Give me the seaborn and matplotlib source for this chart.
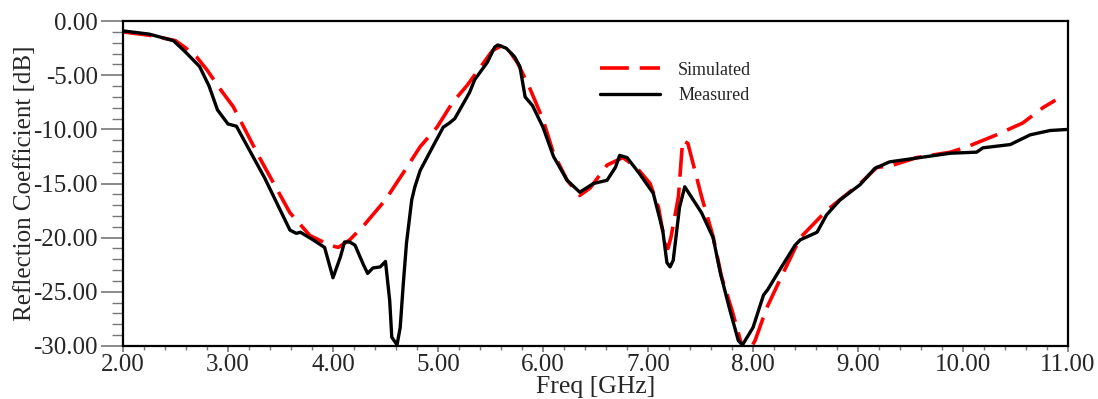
import numpy as np
import pandas as pd
import matplotlib
matplotlib.use("Agg")
import matplotlib.pyplot as plt
import seaborn as sns
from matplotlib.ticker import MultipleLocator, FormatStrFormatter

# =======================
# Data
# =======================
sim_freq = [2.0, 2.25, 2.5, 2.6, 2.7, 2.8, 2.92, 3.05, 3.3, 3.59, 3.78, 3.97, 4.05, 4.16,
            4.3, 4.5, 4.67, 4.83, 4.99, 5.14, 5.28, 5.4, 5.52, 5.6, 5.69, 5.76, 5.87,
            6.0, 6.1, 6.23, 6.35, 6.45, 6.61, 6.76, 6.89, 7.02, 7.1, 7.16, 7.19, 7.22,
            7.29, 7.33, 7.38, 7.51, 7.62, 7.7, 7.8, 7.88, 7.93, 8.02, 8.13, 8.29, 8.45,
            8.7, 9.02, 9.18, 9.3, 9.56, 9.88, 10.04, 10.32, 10.57, 10.76, 10.88]
sim_s11 = [-1.0, -1.3, -1.8, -2.5, -3.3, -4.5, -6.2, -7.9, -12.6, -17.7, -19.8, -20.7, -20.9, -20.2,
           -18.8, -16.5, -14.0, -11.6, -9.8, -7.5, -5.9, -4.3, -2.7, -2.3, -2.9, -3.9, -6.1,
           -9.1, -12.2, -14.7, -16.1, -15.4, -13.3, -12.6, -13.5, -15.0, -17.2, -20.5, -21.0, -19.9,
           -16.2, -11.0, -11.3, -16.2, -19.9, -23.6, -26.7, -29.5, -31.0, -29.5, -26.5, -23.2, -20.0,
           -17.5, -15.0, -13.5, -13.4, -12.6, -12.1, -11.6, -10.5, -9.4, -8.0, -7.3]

meas_freq = [2.0, 2.25, 2.48, 2.6, 2.73, 2.82, 2.9, 3.0, 3.04, 3.08, 3.35, 3.59, 3.65, 3.69,
             3.81, 3.92, 4.0, 4.07, 4.11, 4.16, 4.21, 4.29, 4.33, 4.38, 4.45, 4.5,
             4.54, 4.56, 4.61, 4.64, 4.67, 4.7, 4.75, 4.78, 4.83, 4.95, 5.05, 5.11, 5.16,
             5.23, 5.3, 5.35, 5.47, 5.54, 5.57, 5.65, 5.73, 5.78, 5.83, 5.9, 6.0, 6.1,
             6.23, 6.35, 6.48, 6.61, 6.69, 6.73, 6.8, 6.92, 7.05, 7.14, 7.18, 7.21, 7.24,
             7.3, 7.35, 7.51, 7.62, 7.69, 7.78, 7.86, 7.9, 8.0, 8.1, 8.14, 8.24, 8.4, 8.45, 8.61,
             8.7, 8.83, 9.02, 9.16, 9.3, 9.59, 9.88, 10.13, 10.19, 10.45, 10.64, 10.83, 11.0]
meas_s11 = [-0.9, -1.2, -1.8, -2.9, -4.2, -6.0, -8.2, -9.5, -9.6, -9.7, -14.5, -19.3, -19.6, -19.5,
            -20.2, -20.9, -23.7, -21.8, -20.4, -20.4, -20.7, -22.5, -23.3, -22.8, -22.7, -22.2,
            -25.8, -29.2, -29.9, -28.3, -24.2, -20.5, -16.5, -15.3, -13.8, -11.6, -9.8, -9.4, -9.0,
            -7.8, -6.6, -5.4, -3.8, -2.4, -2.2, -2.5, -3.3, -4.2, -7.0, -7.8, -9.8, -12.5,
            -14.7, -15.8, -15.0, -14.7, -13.5, -12.4, -12.6, -14.1, -15.9, -19.3, -22.3, -22.7, -22.1,
            -17.2, -15.3, -17.7, -20.0, -23.3, -26.7, -29.5, -29.9, -28.3, -25.3, -24.8, -23.2, -20.7, -20.2, -19.5,
            -17.9, -16.5, -15.1, -13.6, -13.0, -12.6, -12.2, -12.1, -11.7, -11.4, -10.5, -10.1, -10.0]

# =======================
# Style
# =======================
sns.set_theme(style="ticks")
plt.rcParams['font.family'] = ['Liberation Serif', 'DejaVu Serif']

fig = plt.figure(figsize=(10.98, 3.99), dpi=100)
ax = fig.add_axes([0.112, 0.133, 0.8607, 0.814])

sns.lineplot(x=sim_freq, y=sim_s11, ax=ax, color="red", linewidth=2.6,
             linestyle=(0, (8, 3)), label="Simulated", sort=False)
sns.lineplot(x=meas_freq, y=meas_s11, ax=ax, color="black", linewidth=2.4,
             label="Measured", sort=False)

ax.set_xlim(2, 11)
ax.set_ylim(-30, 0)
ax.xaxis.set_major_locator(MultipleLocator(1))
ax.xaxis.set_minor_locator(MultipleLocator(0.2))
ax.yaxis.set_major_locator(MultipleLocator(5))
ax.yaxis.set_minor_locator(MultipleLocator(1))
ax.xaxis.set_major_formatter(FormatStrFormatter("%.2f"))
ax.yaxis.set_major_formatter(FormatStrFormatter("%.2f"))

ax.tick_params(axis="both", which="major", labelsize=18, direction="out",
               width=1.2, color="#777777", pad=2)
ax.tick_params(axis="x", which="major", length=4)
ax.tick_params(axis="y", which="major", length=16)
ax.tick_params(axis="both", which="minor", direction="out",
               width=1.0, color="#777777")
ax.tick_params(axis="x", which="minor", length=3)
ax.tick_params(axis="y", which="minor", length=8)

for side in ["top", "right", "bottom", "left"]:
    ax.spines[side].set_visible(True)
    ax.spines[side].set_color("black")
    ax.spines[side].set_linewidth(1.6)

ax.set_xlabel("Freq [GHz]", fontsize=18.5, labelpad=0)
ax.set_ylabel("Reflection Coefficient [dB]", fontsize=18, labelpad=-2)

leg = ax.legend(loc="upper left", bbox_to_anchor=(0.488, 0.925), frameon=False,
                fontsize=13, handlelength=3.3, handletextpad=1.0,
                labelspacing=0.45)

fig.savefig("out.png", dpi=100)
